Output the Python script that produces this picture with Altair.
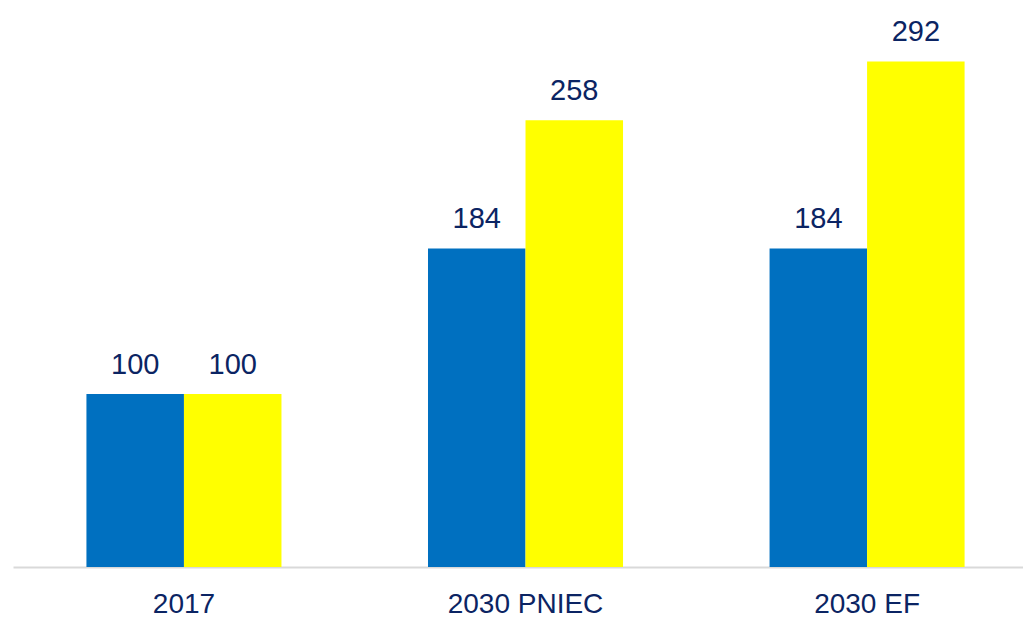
import altair as alt
import pandas as pd

categories = ["2017", "2030 PNIEC", "2030 EF"]
series_names = ["Serie 1", "Serie 2"]
values_1 = [100, 184, 184]
values_2 = [100, 258, 292]
colors = ["#0070C0", "#FFFF00"]

rows = []
for i, c in enumerate(categories):
    rows.append({"cat": c, "serie": series_names[0], "value": values_1[i]})
    rows.append({"cat": c, "serie": series_names[1], "value": values_2[i]})
df = pd.DataFrame(rows)

font = "Liberation Sans"
navy = "#0B2463"

x = alt.X(
    "cat:N",
    sort=categories,
    title=None,
    scale=alt.Scale(paddingInner=0.429, paddingOuter=0.193, align=0.557),
    axis=alt.Axis(
        labelAngle=0,
        labelFont=font,
        labelFontSize=28,
        labelColor=navy,
        labelPadding=23,
        ticks=False,
        tickSize=0,
        domainColor="#D9D9D9",
        domainWidth=2,
        grid=False,
    ),
)
y = alt.Y(
    "value:Q",
    scale=alt.Scale(domain=[0, 320], nice=False),
    axis=None,
)
xo = alt.XOffset("serie:N", sort=series_names)

base = alt.Chart(df).encode(x=x, xOffset=xo, y=y)

bars = base.mark_bar().encode(
    color=alt.Color(
        "serie:N",
        sort=series_names,
        scale=alt.Scale(domain=series_names, range=colors),
        legend=None,
    )
)
labels = base.mark_text(
    baseline="alphabetic", dy=-20, font=font, fontSize=29, color=navy
).encode(text=alt.Text("value:Q"))

chart = (
    (bars + labels)
    .properties(
        width=1010,
        height=554,
        background="white",
        padding={"left": 5, "top": 5, "right": 0, "bottom": 0},
    )
    .configure_view(strokeWidth=0)
)

chart.save("out.html", embed_options={"renderer": "svg", "actions": False})
